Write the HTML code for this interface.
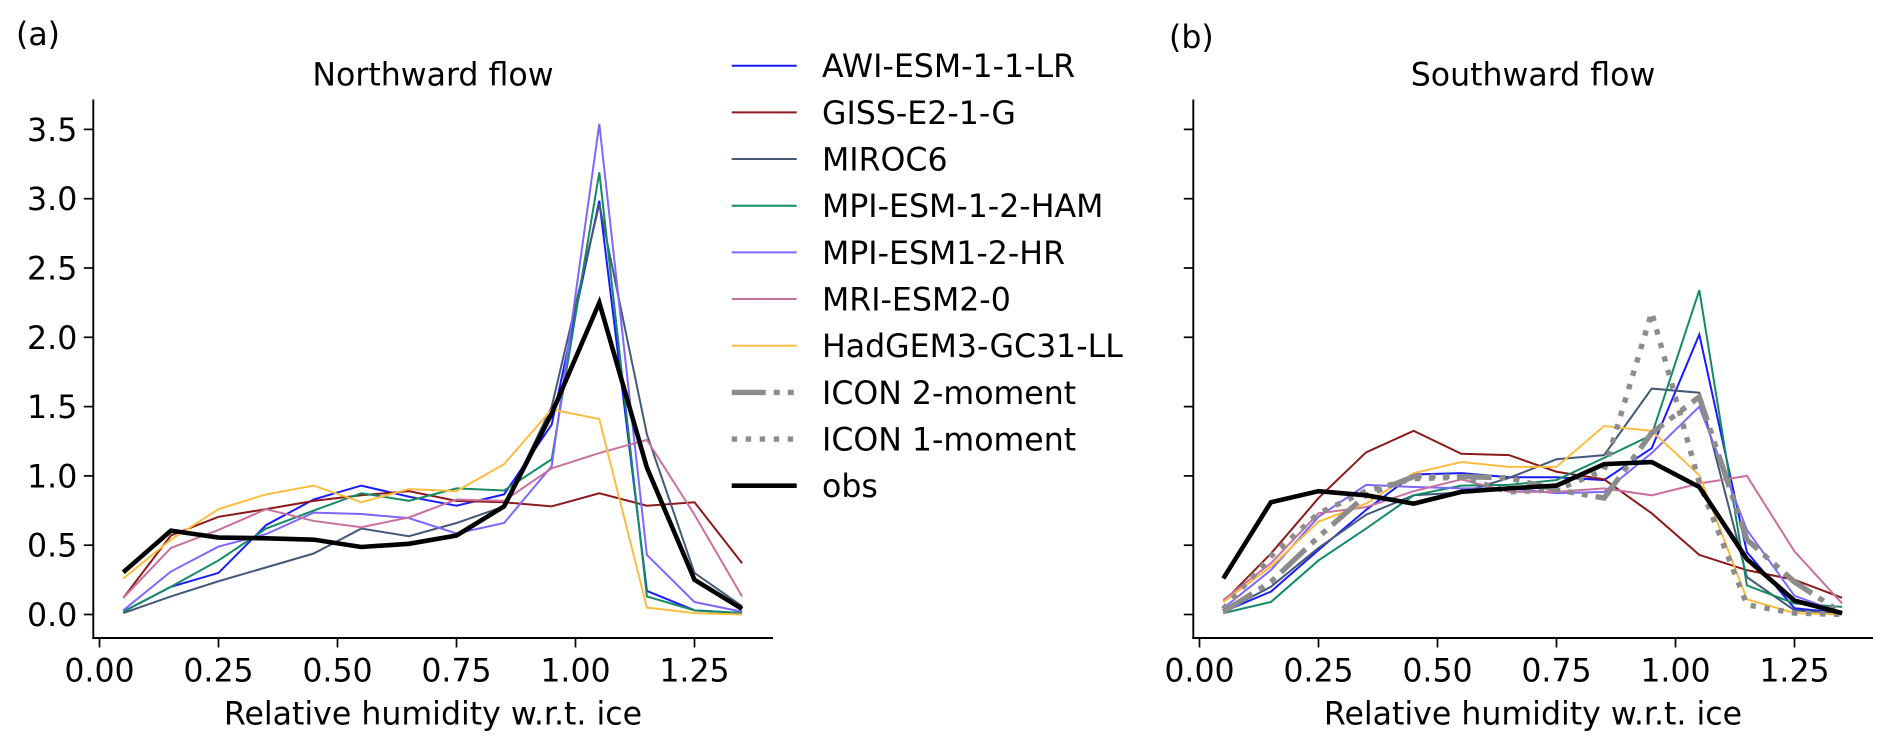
<!DOCTYPE html>
<html>
<head>
<meta charset="utf-8">
<title>Northward and southward flow</title>
<style>
html,body{margin:0;padding:0;background:#fff;}
svg{display:block;font-family:"DejaVu Sans",sans-serif;fill:#000;}
text{font-size:31.6px;}
</style>
</head>
<body>
<svg id="figure" width="1892" height="749" viewBox="0 0 1892 749" xmlns="http://www.w3.org/2000/svg">
  <rect x="0" y="0" width="1892" height="749" fill="#ffffff"/>
  <text x="16" y="45">(a)</text>
  <text x="1169" y="48">(b)</text>
  <text x="433" y="85.5" text-anchor="middle">Northward flow</text>
  <text x="1533" y="85.5" text-anchor="middle">Southward flow</text>
  <text x="433" y="724.5" text-anchor="middle">Relative humidity w.r.t. ice</text>
  <text x="1533" y="724.5" text-anchor="middle">Relative humidity w.r.t. ice</text>
</svg>
<script>
const bins = [0.05,0.15,0.25,0.35,0.45,0.55,0.65,0.75,0.85,0.95,1.05,1.15,1.25,1.35];
const xTickLabels = ['0.00','0.25','0.50','0.75','1.00','1.25'];
const yTickLabels = ['0.0','0.5','1.0','1.5','2.0','2.5','3.0','3.5'];

const northAWI  = [0.02,0.20,0.30,0.645,0.83,0.93,0.85,0.785,0.867,1.37,2.985,0.17,0.03,0.01];
const northGISS = [0.12,0.57,0.705,0.76,0.82,0.86,0.89,0.82,0.81,0.78,0.875,0.785,0.81,0.37];
const northMIROC = [0.01,0.13,0.24,0.34,0.44,0.62,0.565,0.66,0.78,1.5,2.96,1.3,0.3,0.06];
const northHAM  = [0.02,0.20,0.39,0.62,0.75,0.875,0.82,0.91,0.895,1.12,3.19,0.13,0.03,0.01];
const northHR   = [0.03,0.31,0.49,0.58,0.735,0.725,0.695,0.585,0.66,1.07,3.54,0.43,0.09,0.02];
const northMRI  = [0.12,0.48,0.61,0.76,0.675,0.63,0.70,0.83,0.82,1.055,1.165,1.26,0.72,0.13];
const northHad  = [0.26,0.54,0.76,0.867,0.93,0.81,0.905,0.89,1.085,1.48,1.41,0.05,0.01,0.00];
const northObs  = [0.305,0.605,0.555,0.55,0.54,0.487,0.51,0.57,0.78,1.45,2.25,1.06,0.25,0.04];

const southAWI  = [0.02,0.165,0.465,0.755,1.01,1.02,0.99,0.99,0.97,1.2,2.02,0.45,0.045,0.01];
const southGISS = [0.09,0.44,0.84,1.17,1.325,1.16,1.15,1.03,0.975,0.73,0.43,0.32,0.25,0.12];
const southMIROC = [0.02,0.20,0.48,0.72,0.86,0.88,0.985,1.12,1.15,1.63,1.6,0.27,0.03,0.01];
const southHAM  = [0.01,0.09,0.39,0.62,0.86,0.93,0.935,0.97,1.13,1.295,2.34,0.21,0.08,0.055];
const southHR   = [0.045,0.32,0.705,0.935,0.92,0.91,0.91,0.875,0.885,1.165,1.5,0.61,0.135,0.01];
const southMRI  = [0.105,0.37,0.73,0.775,0.89,0.975,0.885,0.885,0.91,0.86,0.945,1.0,0.455,0.08];
const southHad  = [0.09,0.345,0.67,0.80,1.02,1.10,1.065,1.065,1.36,1.325,1.005,0.11,0.01,0.00];
const southIcon2 = [0.02,0.235,0.56,0.86,0.995,0.995,0.985,0.9,0.84,1.31,1.57,0.54,0.235,0.01];
const southIcon1 = [0.04,0.42,0.73,0.89,0.98,0.99,0.885,0.9,1.04,2.18,0.95,0.07,0.01,0.00];
const southObs  = [0.26,0.81,0.89,0.86,0.80,0.885,0.91,0.93,1.085,1.10,0.92,0.40,0.10,0.01];

const legendLabels = ['AWI-ESM-1-1-LR','GISS-E2-1-G','MIROC6','MPI-ESM-1-2-HAM','MPI-ESM1-2-HR','MRI-ESM2-0','HadGEM3-GC31-LL','ICON 2-moment','ICON 1-moment','obs'];
const seriesColors = ['#1a1aff','#8c1a1a','#44597a','#148a66','#7f66ff','#c9709f','#ffbc42','#8c8c8c','#8c8c8c','#000000'];
const seriesWidths = [2,2,2,2,2,2,2,5.4,5.4,4.6];
const seriesDashes = ['','','','','','','','34 8 6 8 6 8','5.4 8.6',''];

const NS = 'http://www.w3.org/2000/svg';
const fig = document.getElementById('figure');
const yScale = v => 614.5 - 138.6 * v;

function makePanel(offset) {
  return {
    x: v => 99.5 + offset + 476 * v,
    left: 93.3 + offset,
    right: 773 + offset
  };
}

function addLine(x1, y1, x2, y2, width, name) {
  const l = document.createElementNS(NS, 'line');
  l.setAttribute('x1', x1);
  l.setAttribute('y1', y1);
  l.setAttribute('x2', x2);
  l.setAttribute('y2', y2);
  l.setAttribute('stroke', '#000');
  l.setAttribute('stroke-width', width);
  
  
  fig.appendChild(l);
}

function addText(x, y, str, anchor, name) {
  const t = document.createElementNS(NS, 'text');
  t.setAttribute('x', x);
  t.setAttribute('y', y);
  t.setAttribute('text-anchor', anchor);
  t.textContent = str;
  
  
  fig.appendChild(t);
}

function drawAxes(panel, showYLabels, prefix) {
  addLine(panel.left, 99.5, panel.left, 639, 1.9, prefix + '-y-axis-spine');
  addLine(panel.left - 1, 638, panel.right, 638, 1.9, prefix + '-x-axis-spine');
  xTickLabels.forEach(label => {
    const v = parseFloat(label);
    const px = panel.x(v);
    addLine(px, 638, px, 647.5, 1.7, prefix + '-x-tick');
    addText(px, 681.5, label, 'middle', prefix + '-x-tick-label');
  });
  yTickLabels.forEach(label => {
    const v = parseFloat(label);
    const py = yScale(v);
    addLine(panel.left - 9.5, py, panel.left, py, 1.7, prefix + '-y-tick');
    if (showYLabels) {
      addText(panel.left - 16, py + 11.5, label, 'end', prefix + '-y-tick-label');
    }
  });
}

function drawSeries(panel, values, idx, name) {
  const p = document.createElementNS(NS, 'path');
  const d = values.map((v, i) => (i ? 'L' : 'M') + panel.x(bins[i]).toFixed(2) + ' ' + yScale(v).toFixed(2)).join(' ');
  p.setAttribute('d', d);
  p.setAttribute('fill', 'none');
  p.setAttribute('stroke', seriesColors[idx]);
  p.setAttribute('stroke-width', seriesWidths[idx]);
  p.setAttribute('stroke-linejoin', 'miter');
  p.setAttribute('stroke-dasharray', seriesDashes[idx]);
  
  
  fig.appendChild(p);
}

const leftPanel = makePanel(0);
const rightPanel = makePanel(1100);
drawAxes(leftPanel, true, 'northward');
drawAxes(rightPanel, false, 'southward');

[northAWI,northGISS,northMIROC,northHAM,northHR,northMRI,northHad].forEach((vals, i) => {
  drawSeries(leftPanel, vals, i, 'northward-line-' + legendLabels[i].toLowerCase().replace(/[^a-z0-9]+/g, '-'));
});
drawSeries(leftPanel, northObs, 9, 'northward-line-obs');

[southAWI,southGISS,southMIROC,southHAM,southHR,southMRI,southHad,southIcon2,southIcon1,southObs].forEach((vals, i) => {
  drawSeries(rightPanel, vals, i, 'southward-line-' + legendLabels[i].toLowerCase().replace(/[^a-z0-9]+/g, '-'));
});

legendLabels.forEach((label, i) => {
  const y = 65.7 + 46.67 * i;
  const key = document.createElementNS(NS, 'line');
  key.setAttribute('x1', 731.7);
  key.setAttribute('y1', y);
  key.setAttribute('x2', 796.7);
  key.setAttribute('y2', y);
  key.setAttribute('stroke', seriesColors[i]);
  key.setAttribute('stroke-width', seriesWidths[i]);
  key.setAttribute('stroke-dasharray', seriesDashes[i]);
  
  
  fig.appendChild(key);
  addText(822, y + 11.5, label, 'start', 'legend-entry');
});
</script>
</body>
</html>
